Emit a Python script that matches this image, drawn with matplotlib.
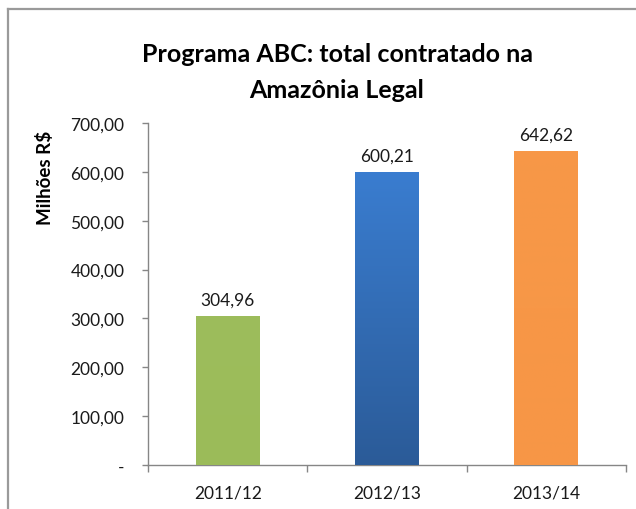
import numpy as np
import matplotlib
matplotlib.use("Agg")
import matplotlib.pyplot as plt
from matplotlib.lines import Line2D
from matplotlib.ticker import FuncFormatter, FixedLocator

plt.rcParams['font.family'] = ['Lato', 'DejaVu Sans']

# data
categories = ['2011/12', '2012/13', '2013/14']
values = [304.96, 600.21, 642.62]
value_labels = ['304,96', '600,21', '642,62']
top_colors = ['#9dbd5c', '#3a7dd0', '#f79848']
bottom_colors = ['#9bbb59', '#2b5b98', '#f79646']
yticks = [0, 100, 200, 300, 400, 500, 600, 700]

W, H = 636, 510
fig = plt.figure(figsize=(W / 100, H / 100), dpi=100)
ax = fig.add_axes([148 / W, 1 - 466 / H, (626 - 148) / W, (466 - 124) / H])

gray = '#868686'
x = np.arange(len(categories))

def hex_rgb(h):
    return np.array([int(h[i:i + 2], 16) / 255 for i in (1, 3, 5)])

for xi, v, c0, c1, lab in zip(x, values, top_colors, bottom_colors, value_labels):
    bar = ax.bar(xi, v, width=0.4, color=c1, edgecolor='none', zorder=2)[0]
    # vertical gradient, top to bottom
    t = np.linspace(0, 1, 256)[:, None]
    grad = (1 - t) * hex_rgb(c0) + t * hex_rgb(c1)
    img = ax.imshow(grad[:, None, :], extent=[xi - 0.2, xi + 0.2, 0, v],
                    aspect='auto', zorder=3, interpolation='bilinear')
    img.set_clip_path(bar)
    ax.annotate(lab, (xi, v), xytext=(0, 6), textcoords='offset points',
                ha='center', va='bottom', fontsize=12.5, color='#1a1a1a')

ax.set_xlim(-0.5, 2.5)
ax.set_ylim(0, 700)
ax.set_yticks(yticks)
ax.yaxis.set_major_formatter(FuncFormatter(
    lambda v, p: '-' if v == 0 else f'{v:.2f}'.replace('.', ',')))
ax.set_xticks(x)
ax.set_xticklabels(categories)
ax.xaxis.set_minor_locator(FixedLocator([-0.5, 0.5, 1.5, 2.5]))

ax.tick_params(axis='y', direction='out', length=4, color=gray, width=1,
               labelsize=12.5, labelcolor='#1a1a1a', pad=13)
ax.tick_params(axis='x', which='major', length=0, labelsize=12.5,
               labelcolor='#1a1a1a', pad=14)
ax.tick_params(axis='x', which='minor', direction='out', length=5, color=gray, width=1)

for s in ['top', 'right']:
    ax.spines[s].set_visible(False)
for s in ['left', 'bottom']:
    ax.spines[s].set_color(gray)
    ax.spines[s].set_linewidth(1)

# y label
fig.text(45 / W, 1 - 178 / H, 'Milhões R$', rotation=90, ha='center', va='center',
         fontsize=13.5, fontweight='bold', color='#000000')

# title
fig.text(337 / W, 1 - 55 / H, 'Programa ABC: total contratado na', ha='center',
         va='center', fontsize=18, fontweight='bold', color='#000000')
fig.text(337 / W, 1 - 90 / H, 'Amazônia Legal', ha='center',
         va='center', fontsize=18, fontweight='bold', color='#000000')

# chart frame (cropped on the right and bottom)
frame = '#9a9a9a'
fig.add_artist(Line2D([8 / W, 8 / W], [0, 1 - 10 / H], transform=fig.transFigure,
                      color=frame, linewidth=1.6))
fig.add_artist(Line2D([8 / W, 1], [1 - 10 / H, 1 - 10 / H], transform=fig.transFigure,
                      color=frame, linewidth=1.6))

fig.savefig('out.png', dpi=100, facecolor='white')
